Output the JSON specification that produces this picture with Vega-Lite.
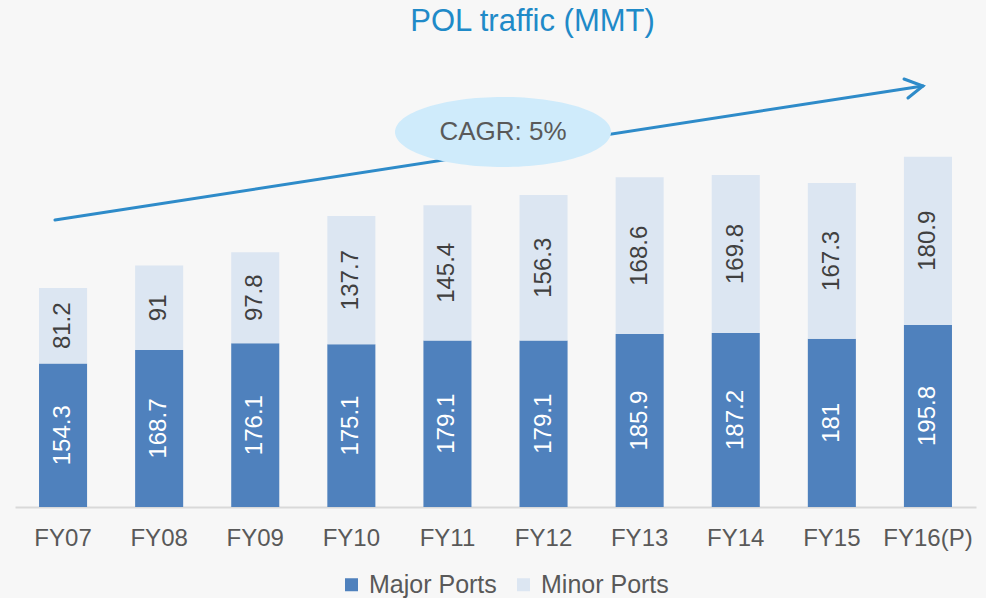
{
  "$schema": "https://vega.github.io/schema/vega-lite/v6.json",
  "autosize": "none",
  "width": 961,
  "height": 465,
  "padding": {"left": 15, "top": 42, "right": 10, "bottom": 91},
  "background": "#F7F7F7",
  "config": {
    "view": {"stroke": null},
    "font": "Liberation Sans",
    "title": {"fontSize": 31, "fontWeight": "normal", "color": "#1F8AC8", "anchor": "middle", "dx": 37, "offset": 4}
  },
  "title": "POL traffic (MMT)",
  "datasets": {
    "bars": [
      {"year": "FY07", "series": "Major Ports", "order": 1, "value": 154.3},
      {"year": "FY07", "series": "Minor Ports", "order": 2, "value": 81.2},
      {"year": "FY08", "series": "Major Ports", "order": 1, "value": 168.7},
      {"year": "FY08", "series": "Minor Ports", "order": 2, "value": 91},
      {"year": "FY09", "series": "Major Ports", "order": 1, "value": 176.1},
      {"year": "FY09", "series": "Minor Ports", "order": 2, "value": 97.8},
      {"year": "FY10", "series": "Major Ports", "order": 1, "value": 175.1},
      {"year": "FY10", "series": "Minor Ports", "order": 2, "value": 137.7},
      {"year": "FY11", "series": "Major Ports", "order": 1, "value": 179.1},
      {"year": "FY11", "series": "Minor Ports", "order": 2, "value": 145.4},
      {"year": "FY12", "series": "Major Ports", "order": 1, "value": 179.1},
      {"year": "FY12", "series": "Minor Ports", "order": 2, "value": 156.3},
      {"year": "FY13", "series": "Major Ports", "order": 1, "value": 185.9},
      {"year": "FY13", "series": "Minor Ports", "order": 2, "value": 168.6},
      {"year": "FY14", "series": "Major Ports", "order": 1, "value": 187.2},
      {"year": "FY14", "series": "Minor Ports", "order": 2, "value": 169.8},
      {"year": "FY15", "series": "Major Ports", "order": 1, "value": 181},
      {"year": "FY15", "series": "Minor Ports", "order": 2, "value": 167.3},
      {"year": "FY16(P)", "series": "Major Ports", "order": 1, "value": 195.8},
      {"year": "FY16(P)", "series": "Minor Ports", "order": 2, "value": 180.9}
    ],
    "arrow": [
      {"part": "shaft", "idx": 1, "px": -0.084, "py": 308.6},
      {"part": "shaft", "idx": 2, "px": 8.948, "py": 452.7},
      {"part": "head", "idx": 1, "px": 8.751, "py": 460.2},
      {"part": "head", "idx": 2, "px": 8.948, "py": 452.7},
      {"part": "head", "idx": 3, "px": 8.792, "py": 439.8}
    ],
    "bubble": [
      {"label": "CAGR: 5%", "px": 4.578, "py": 403.2}
    ]
  },
  "layer": [
    {
      "layer": [
        {
          "data": {"name": "bars"},
          "mark": {"type": "bar"},
          "encoding": {
            "x": {"field": "year", "type": "nominal", "sort": null,
                  "scale": {"paddingInner": 0.5, "paddingOuter": 0.25},
                  "axis": {"title": null, "labelAngle": 0, "labelFontSize": 24, "labelColor": "#595959", "ticks": false, "domainColor": "#D9D9D9", "domainWidth": 2, "labelPadding": 19, "grid": false}},
            "y": {"field": "value", "type": "quantitative", "stack": "zero",
                  "scale": {"domain": [0, 500]}, "axis": null},
            "order": {"field": "order", "type": "quantitative"},
            "color": {"field": "series", "type": "nominal",
                      "scale": {"domain": ["Major Ports", "Minor Ports"], "range": ["#4F81BD", "#DCE6F2"]},
                      "legend": {"title": null, "orient": "none", "direction": "horizontal", "legendX": 324, "legendY": 530,
                                 "symbolType": "square", "symbolSize": 169, "symbolStrokeWidth": 0, "labelFontSize": 25, "labelColor": "#595959",
                                 "columnPadding": 14, "labelOffset": 5}}
          }
        },
        {
          "data": {"name": "bars"},
          "mark": {"type": "text", "angle": 270, "fontSize": 24, "align": "center", "baseline": "middle"},
          "encoding": {
            "x": {"field": "year", "type": "nominal", "sort": null},
            "y": {"field": "value", "type": "quantitative", "stack": "zero", "bandPosition": 0.5},
            "order": {"field": "order", "type": "quantitative"},
            "text": {"field": "value", "type": "quantitative"},
            "color": {"condition": {"test": "datum.series === 'Major Ports'", "value": "#FFFFFF"}, "value": "#404040"}
          }
        }
      ]
    },
    {
      "layer": [
        {
          "data": {"name": "arrow"},
          "mark": {"type": "line", "color": "#2E8BC9", "strokeWidth": 3, "strokeCap": "round", "strokeJoin": "miter"},
          "encoding": {
            "x": {"field": "px", "type": "quantitative", "scale": {"domain": [-0.5, 9.5], "nice": false, "zero": false}, "axis": null},
            "y": {"field": "py", "type": "quantitative"},
            "detail": {"field": "part", "type": "nominal"},
            "order": {"field": "idx", "type": "quantitative"}
          }
        },
        {
          "data": {"name": "bubble"},
          "mark": {"type": "point", "filled": true, "fill": "#CFEBFB", "opacity": 1, "strokeWidth": 0,
                   "shape": "M -1 0 A 1 0.324 0 1 0 1 0 A 1 0.324 0 1 0 -1 0 Z", "size": 46656},
          "encoding": {
            "x": {"field": "px", "type": "quantitative"},
            "y": {"field": "py", "type": "quantitative"}
          }
        },
        {
          "data": {"name": "bubble"},
          "mark": {"type": "text", "fontSize": 26, "color": "#595959", "align": "center", "baseline": "middle"},
          "encoding": {
            "x": {"field": "px", "type": "quantitative"},
            "y": {"field": "py", "type": "quantitative"},
            "text": {"field": "label", "type": "nominal"}
          }
        }
      ]
    }
  ],
  "resolve": {"scale": {"x": "independent"}}
}
